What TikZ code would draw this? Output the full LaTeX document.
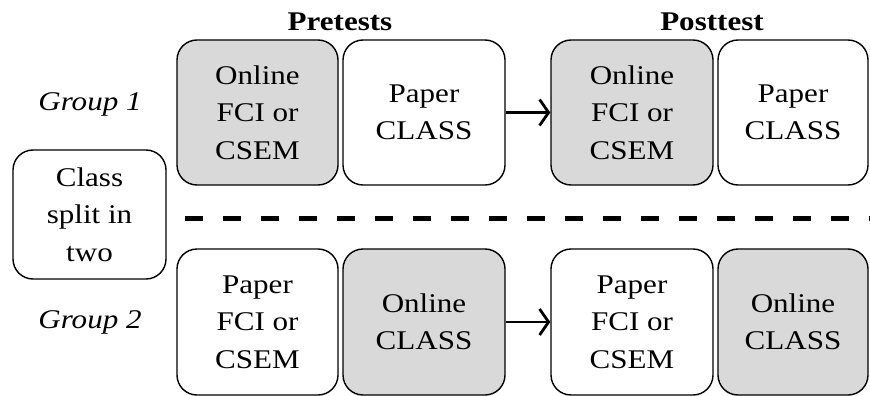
\documentclass[tikz,border=0pt]{standalone}
\usepackage{fontspec}
\setmainfont{Liberation Serif}[FakeStretch=1.15]
\usetikzlibrary{arrows.meta}
\definecolor{boxgray}{HTML}{D9D9D9}
\tikzset{
  testbox/.style={draw=black, line width=1.4pt, rounded corners=20pt, align=center,
    font=\fontsize{27}{37.5}\selectfont, inner sep=0pt},
  grayfill/.style={fill=boxgray},
  headlabel/.style={font=\fontsize{27}{32}\selectfont\bfseries},
  grouplabel/.style={font=\fontsize{27}{32}\selectfont\itshape},
  flow/.style={line width=2.8pt, -{Straight Barb[length=9pt,width=26pt,line width=2.8pt]}}
}
\begin{document}
\begin{tikzpicture}[x=1pt,y=-1pt]
\useasboundingbox (0,0) rectangle (870,396);
% class box
\node[testbox, minimum width=153pt, minimum height=129pt] (cls) at (89.5,214.5) {Class\\split in\\two};
% group labels
\node[grouplabel] (g1) at (90,104) {Group 1};
\node[grouplabel] (g2) at (90,322) {Group 2};
% headings
\node[headlabel] (pre) at (340,22) {Pretests};
\node[headlabel] (post) at (712,22) {Posttest};
% top row
\node[testbox, grayfill, minimum width=161pt, minimum height=145pt] (t1) at (257.5,112.5) {Online\\FCI or\\CSEM};
\node[testbox, minimum width=162pt, minimum height=145pt] (t2) at (424,112.5) {Paper\\CLASS};
\node[testbox, grayfill, minimum width=162pt, minimum height=145pt] (t3) at (632,112.5) {Online\\FCI or\\CSEM};
\node[testbox, minimum width=150pt, minimum height=145pt] (t4) at (793,112.5) {Paper\\CLASS};
% bottom row
\node[testbox, minimum width=161pt, minimum height=146pt] (b1) at (257.5,322) {Paper\\FCI or\\CSEM};
\node[testbox, grayfill, minimum width=162pt, minimum height=146pt] (b2) at (424,322) {Online\\CLASS};
\node[testbox, minimum width=162pt, minimum height=146pt] (b3) at (632,322) {Paper\\FCI or\\CSEM};
\node[testbox, grayfill, minimum width=150pt, minimum height=146pt] (b4) at (793,322) {Online\\CLASS};
% arrows
\draw[flow] (t2.east) -- (t3.west);
\draw[flow] (b2.east) -- (b3.west);
% dashed divider
\coordinate (dl) at (185,218);
\coordinate (dr) at (870,218);
\draw[line width=5pt, dash pattern=on 18pt off 20pt] (dl) -- (dr);
\end{tikzpicture}
\end{document}
